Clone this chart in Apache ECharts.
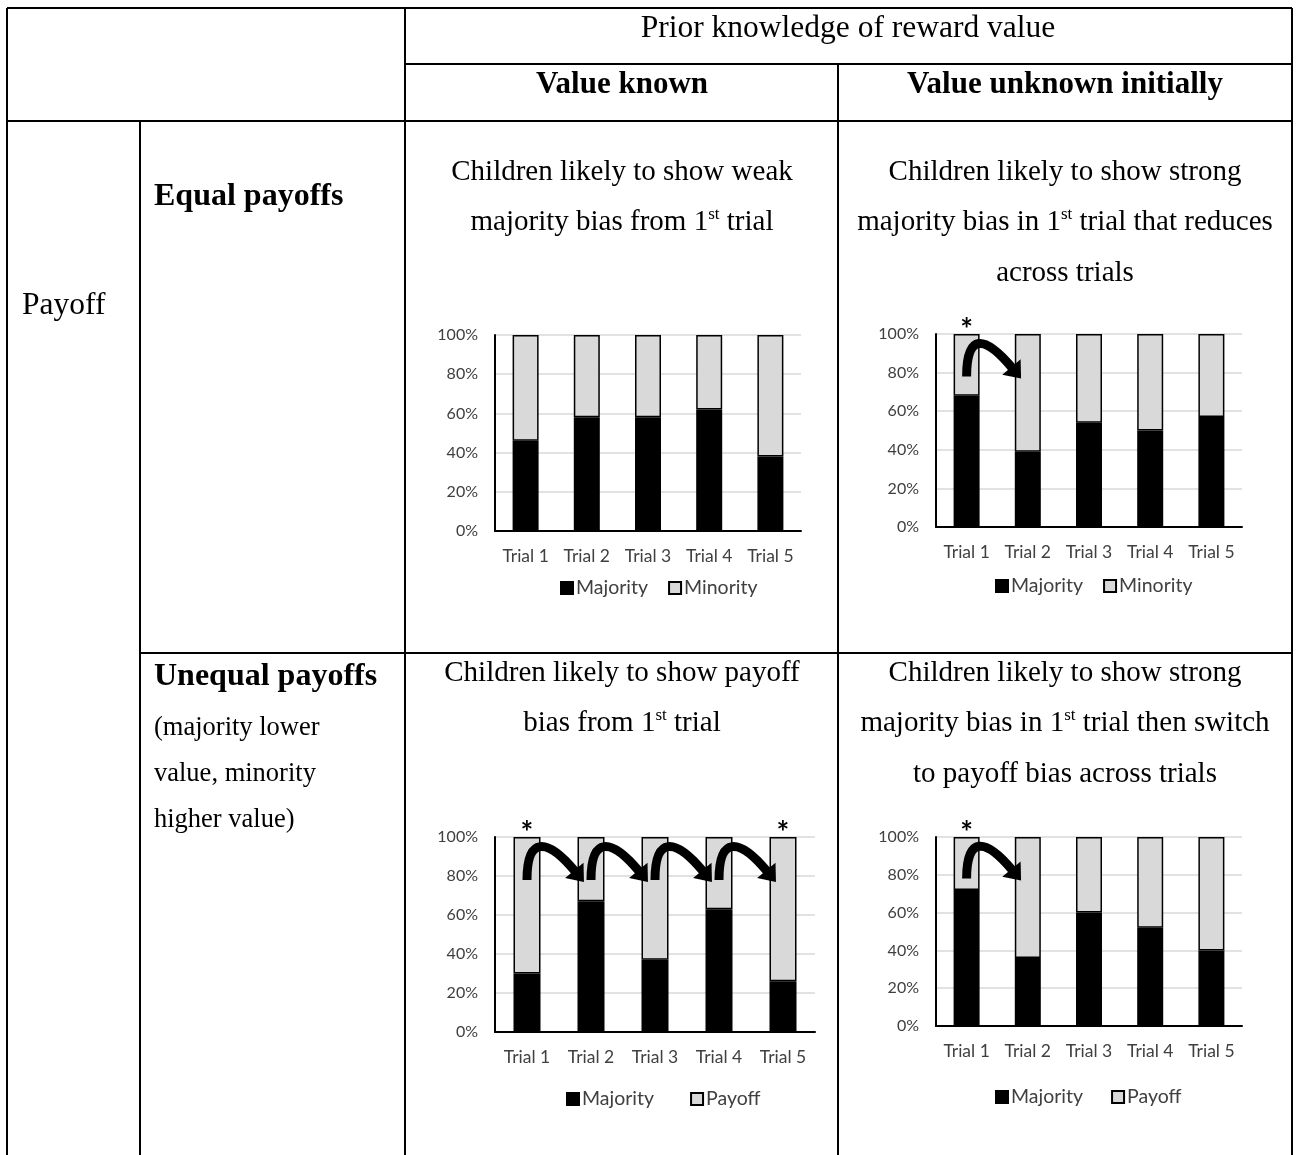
<!DOCTYPE html>
<html>
<head>
<meta charset="utf-8">
<script src="https://cdn.jsdelivr.net/npm/echarts@6/dist/echarts.min.js"></script>
<style>
  html, body { margin: 0; padding: 0; background: #ffffff; }
  #main { width: 1301px; height: 1155px; }
</style>
</head>
<body>
<div id="main"></div>
<script>
// ---------------- data ----------------
const trials = ['Trial 1', 'Trial 2', 'Trial 3', 'Trial 4', 'Trial 5'];
const percentTicks = [0, 20, 40, 60, 80, 100];

// Equal payoffs, value known
const knownEqualMajority = [46, 58, 58, 62, 38];
const knownEqualMinority = [54, 42, 42, 38, 62];
// Equal payoffs, value unknown initially
const unknownEqualMajority = [68, 39, 54, 50, 57];
const unknownEqualMinority = [32, 61, 46, 50, 43];
// Unequal payoffs, value known
const knownUnequalMajority = [30, 67, 37, 63, 26];
const knownUnequalPayoff = [70, 33, 63, 37, 74];
// Unequal payoffs, value unknown initially
const unknownUnequalMajority = [72, 36, 60, 52, 40];
const unknownUnequalPayoff = [28, 64, 40, 48, 60];

// trials marked with an asterisk
const knownEqualStars = [];
const unknownEqualStars = [0];
const knownUnequalStars = [0, 4];
const unknownUnequalStars = [0];

// shifts between consecutive trials, drawn as curved arrows [from, to]
const knownEqualShifts = [];
const unknownEqualShifts = [[0, 1]];
const knownUnequalShifts = [[0, 1], [1, 2], [2, 3], [3, 4]];
const unknownUnequalShifts = [[0, 1]];

// ---------------- styling ----------------
const SERIF = '"Liberation Serif", "Times New Roman", serif';
const SANS = 'Lato, "Open Sans", sans-serif';
const INK = '#000000';
const LABEL_GREY = '#404040';
const LIGHT = '#d9d9d9';
const ARROW_FOOT = 78;   // arrow ends sit at this percentage
const ARROW_CTRL = 100;  // bezier control height (percentage)

const panels = [
  { grid: { left: 495, top: 335, width: 306, height: 196 },
    majority: knownEqualMajority, other: knownEqualMinority, otherName: 'Minority',
    stars: knownEqualStars, shifts: knownEqualShifts,
    legend: { left: 560, top: 578, gap: 20 }, barWidth: 26 },
  { grid: { left: 936, top: 334, width: 306, height: 193 },
    majority: unknownEqualMajority, other: unknownEqualMinority, otherName: 'Minority',
    stars: unknownEqualStars, shifts: unknownEqualShifts,
    legend: { left: 995, top: 576, gap: 20 }, barWidth: 26 },
  { grid: { left: 495, top: 837, width: 320, height: 195 },
    majority: knownUnequalMajority, other: knownUnequalPayoff, otherName: 'Payoff',
    stars: knownUnequalStars, shifts: knownUnequalShifts,
    legend: { left: 566, top: 1089, gap: 36 }, barWidth: 27 },
  { grid: { left: 936, top: 837, width: 306, height: 189 },
    majority: unknownUnequalMajority, other: unknownUnequalPayoff, otherName: 'Payoff',
    stars: unknownUnequalStars, shifts: unknownUnequalShifts,
    legend: { left: 995, top: 1087, gap: 28 }, barWidth: 26 }
];

// ---------------- curved arrow drawn in axis space ----------------
function renderShift(params, api) {
  const from = api.value(0);
  const to = api.value(1);
  const band = api.size([1, 0])[0];
  const start = api.coord([from, ARROW_FOOT]);
  const target = api.coord([to, ARROW_FOOT]);
  const yCtl = api.coord([from, ARROW_CTRL])[1];
  const tip = [target[0] - 0.11 * band, start[1] + 2];
  const ang = 50 * Math.PI / 180;
  const d = [Math.cos(ang), Math.sin(ang)];
  const headLen = 15, halfW = 12;
  const base = [tip[0] - d[0] * headLen, tip[1] - d[1] * headLen];
  const s = (base[1] - yCtl) / d[1];
  const c2 = [base[0] - d[0] * s, yCtl];
  const c1 = [start[0], yCtl];
  const n = [-d[1], d[0]];
  return {
    type: 'group',
    children: [
      { type: 'bezierCurve',
        shape: { x1: start[0], y1: start[1], cpx1: c1[0], cpy1: c1[1],
                 cpx2: c2[0], cpy2: c2[1], x2: base[0] + d[0], y2: base[1] + d[1] },
        style: { stroke: INK, lineWidth: 9, fill: 'none' } },
      { type: 'polygon',
        shape: { points: [tip,
                          [base[0] + n[0] * halfW, base[1] + n[1] * halfW],
                          [base[0] - n[0] * halfW, base[1] - n[1] * halfW]] },
        style: { fill: INK } }
    ]
  };
}

// ---------------- table rules & text ----------------
const rules = [
  [7, 8, 1292, 8],
  [7, 8, 7, 1155],
  [1292, 8, 1292, 1155],
  [405, 8, 405, 1155],
  [405, 64, 1292, 64],
  [7, 121, 1292, 121],
  [838, 64, 838, 1155],
  [140, 121, 140, 1155],
  [140, 653, 1292, 653]
];

const graphics = rules.map(r => ({
  type: 'line', silent: true,
  shape: { x1: r[0], y1: r[1], x2: r[2], y2: r[3] },
  style: { stroke: INK, lineWidth: 2 }
}));

const richBody = {
  n: { fontFamily: SERIF, fontSize: 29, lineHeight: 50.5, fill: INK, color: INK },
  s: { fontFamily: SERIF, fontSize: 17, lineHeight: 50.5, padding: [0, 0, 16, 0], fill: INK, color: INK }
};

function label(x, y, text, size, weight, align) {
  return {
    type: 'text', silent: true, x: x, y: y,
    style: {
      text: text, fill: INK,
      font: (weight || 'normal') + ' ' + size + 'px ' + SERIF,
      textAlign: align || 'left', align: align || 'left',
      textVerticalAlign: 'middle', verticalAlign: 'middle'
    }
  };
}

function block(x, yTop, text) {
  return {
    type: 'text', silent: true, x: x, y: yTop,
    style: {
      text: text, rich: richBody, fill: INK,
      font: '29px ' + SERIF, lineHeight: 50.5,
      textAlign: 'center', align: 'center',
      textVerticalAlign: 'top', verticalAlign: 'top'
    }
  };
}

graphics.push(
  label(848, 29, 'Prior knowledge of reward value', 31.5, 'normal', 'center'),
  label(622, 85, 'Value known', 31, 'bold', 'center'),
  label(1065, 85, 'Value unknown initially', 31, 'bold', 'center'),
  label(22, 306, 'Payoff', 31.5),
  label(154, 197, 'Equal payoffs', 32, 'bold'),
  label(154, 677, 'Unequal payoffs', 32, 'bold'),
  label(154, 728, '(majority lower', 26.5),
  label(154, 774, 'value, minority', 26.5),
  label(154, 820, 'higher value)', 26.5),
  block(622, 147, '{n|Children likely to show weak}\n{n|majority bias from 1}{s|st}{n| trial}'),
  block(1065, 147, '{n|Children likely to show strong}\n{n|majority bias in 1}{s|st}{n| trial that reduces}\n{n|across trials}'),
  block(622, 648, '{n|Children likely to show payoff}\n{n|bias from 1}{s|st}{n| trial}'),
  block(1065, 648, '{n|Children likely to show strong}\n{n|majority bias in 1}{s|st}{n| trial then switch}\n{n|to payoff bias across trials}')
);

// ---------------- chart option ----------------
const grids = [], xAxes = [], yAxes = [], series = [], legends = [];

panels.forEach((p, i) => {
  grids.push(Object.assign({ containLabel: false }, p.grid));
  xAxes.push({
    type: 'category', gridIndex: i, data: trials,
    axisLine: { show: true, lineStyle: { color: INK, width: 2 } },
    axisTick: { show: false },
    axisLabel: { interval: 0, hideOverlap: false, fontFamily: SANS, fontSize: 17.5,
                 color: LABEL_GREY, margin: 16 },
    splitLine: { show: false }
  });
  yAxes.push({
    type: 'value', gridIndex: i,
    min: percentTicks[0], max: percentTicks[percentTicks.length - 1],
    interval: percentTicks[1] - percentTicks[0],
    axisLine: { show: true, lineStyle: { color: INK, width: 2 } },
    axisTick: { show: false },
    axisLabel: { formatter: '{value}%', fontFamily: SANS, fontSize: 16, color: LABEL_GREY, margin: 17 },
    splitLine: { show: true, lineStyle: { color: LIGHT, width: 1.5 } }
  });
  series.push({
    type: 'bar', name: 'Majority', xAxisIndex: i, yAxisIndex: i, stack: 'trial' + i,
    data: p.majority, barWidth: p.barWidth, silent: true,
    itemStyle: { color: INK, borderColor: INK, borderWidth: 1.5 }
  });
  series.push({
    type: 'bar', name: p.otherName, xAxisIndex: i, yAxisIndex: i, stack: 'trial' + i,
    data: p.other.map((v, k) => p.stars.includes(k) ? { value: v, label: { show: true } } : v),
    barWidth: p.barWidth, silent: true,
    itemStyle: { color: LIGHT, borderColor: INK, borderWidth: 1.5 },
    label: { show: false, position: 'top', distance: -11, formatter: '*',
             fontFamily: SANS, fontSize: 30, fontWeight: 'bold', color: INK }
  });
  if (p.shifts.length) {
    series.push({
      type: 'custom', xAxisIndex: i, yAxisIndex: i, data: p.shifts,
      renderItem: renderShift, clip: false, silent: true, z: 10,
      encode: { x: 0, y: 1 }
    });
  }
  legends.push({
    left: p.legend.left, top: p.legend.top, padding: 0,
    data: ['Majority', p.otherName], icon: 'rect',
    itemWidth: 12, itemHeight: 12, itemGap: p.legend.gap, selectedMode: false,
    textStyle: { fontFamily: SANS, fontSize: 19.5, color: LABEL_GREY, padding: [0, 0, 0, -2] }
  });
});

const chart = echarts.init(document.getElementById('main'), null, { renderer: 'canvas' });
chart.setOption({
  animation: false,
  backgroundColor: '#ffffff',
  grid: grids,
  xAxis: xAxes,
  yAxis: yAxes,
  legend: legends,
  series: series,
  graphic: { elements: graphics }
});
</script>
</body>
</html>
